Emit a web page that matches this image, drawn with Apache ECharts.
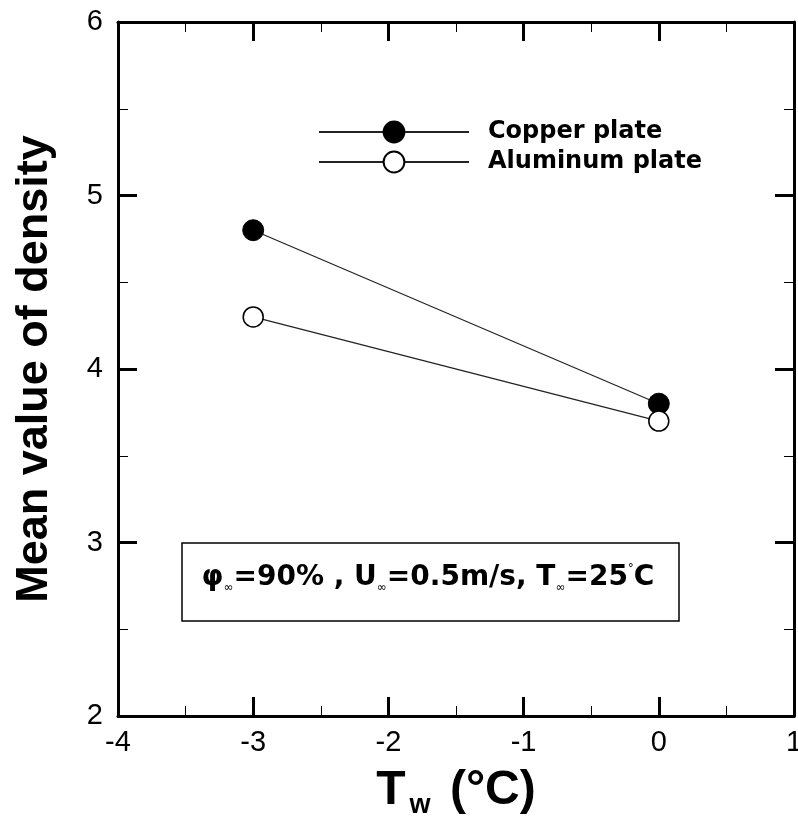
<!DOCTYPE html>
<html><head><meta charset="utf-8">
<script src="https://cdn.jsdelivr.net/npm/echarts@6/dist/echarts.min.js"></script>
<style>html,body{margin:0;padding:0;background:#fff}#c{width:798px;height:823px}</style>
</head><body><div id="c"></div>
<script>
const xValues = [-3, 0];
const copperValues = [4.8, 3.8];
const aluminumValues = [4.3, 3.7];
const seriesNames = ['Copper plate', 'Aluminum plate'];

const chart = echarts.init(document.getElementById('c'));
const axisLine = {show: true, onZero: false, lineStyle: {color: '#000', width: 3}};
const tick = {show: true, inside: true, length: 19, lineStyle: {color: '#000', width: 3}};
const minor = {show: true, splitNumber: 2, length: 10, lineStyle: {color: '#000', width: 1}};
const labelFont = {color: '#000', fontFamily: 'Liberation Sans', fontSize: 29};

chart.setOption({
  animation: false,
  backgroundColor: '#fff',
  grid: {left: 118, right: 4, top: 22, bottom: 107, outerBoundsMode: 'none', containLabel: false},
  xAxis: [{
    type: 'value', min: -4, max: 1, interval: 1,
    axisLine, axisTick: tick, minorTick: minor, splitLine: {show: false},
    axisLabel: Object.assign({margin: 12}, labelFont),
    name: '{t|T}{s|w}{t| (°C)}', nameLocation: 'middle', nameGap: 41,
    nameTextStyle: {rich: {
      t: {fontFamily: 'Liberation Sans', fontWeight: 'bold', fontSize: 48, color: '#000', lineHeight: 48},
      s: {fontFamily: 'Liberation Sans', fontWeight: 'bold', fontSize: 27, color: '#000', lineHeight: 48, padding: [30, 6, 0, 4]}
    }}
  }, {
    type: 'value', min: -4, max: 1, interval: 1, position: 'top',
    axisLine, axisTick: tick, minorTick: minor, splitLine: {show: false}, axisLabel: {show: false}
  }],
  yAxis: [{
    type: 'value', min: 2, max: 6, interval: 1,
    axisLine, axisTick: tick, minorTick: minor, splitLine: {show: false},
    axisLabel: Object.assign({margin: 15}, labelFont),
    name: 'Mean value of density', nameLocation: 'middle', nameGap: 61,
    nameTextStyle: {fontFamily: 'Liberation Sans', fontWeight: 'bold', fontSize: 45, color: '#000'}
  }, {
    type: 'value', min: 2, max: 6, interval: 1, position: 'right',
    axisLine, axisTick: tick, minorTick: minor, splitLine: {show: false}, axisLabel: {show: false}
  }],
  legend: {
    orient: 'vertical', left: 313, top: 115, itemWidth: 150, itemHeight: 26, itemGap: 6,
    data: seriesNames,
    textStyle: {fontFamily: 'DejaVu Sans', fontWeight: 'bold', fontSize: 24, color: '#000', padding: [0, 0, 0, 14]}
  },
  series: [{
    name: seriesNames[0], type: 'line', data: xValues.map((x, i) => [x, copperValues[i]]),
    symbol: 'circle', symbolSize: 21, lineStyle: {color: '#222', width: 1.2},
    itemStyle: {color: '#000', borderColor: '#000', borderWidth: 1}
  }, {
    name: seriesNames[1], type: 'line', data: xValues.map((x, i) => [x, aluminumValues[i]]),
    symbol: 'circle', symbolSize: 20, lineStyle: {color: '#222', width: 1.2},
    itemStyle: {color: '#fff', borderColor: '#000', borderWidth: 1.5}
  }],
  graphic: [{
    type: 'rect', shape: {x: 182, y: 543, width: 497, height: 78},
    style: {fill: '#fff', stroke: '#000', lineWidth: 1.5}
  }, {
    type: 'text', x: 428, y: 578,
    style: {
      text: '{m|φ}{s|∞}{m|=90% , U}{s|∞}{m|=0.5m/s, T}{s|∞}{m|=25}{u|°}{m|C}',
      align: 'center', verticalAlign: 'middle',
      rich: {
        m: {fontFamily: 'DejaVu Sans', fontWeight: 'bold', fontSize: 28, fill: '#000'},
        s: {fontFamily: 'DejaVu Sans', fontSize: 12, fill: '#000', padding: [20, 0, 0, 0]},
        u: {fontFamily: 'DejaVu Sans', fontSize: 12, fill: '#000', padding: [0, 0, 18, 0]}
      }
    }
  }]
});
</script></body></html>
